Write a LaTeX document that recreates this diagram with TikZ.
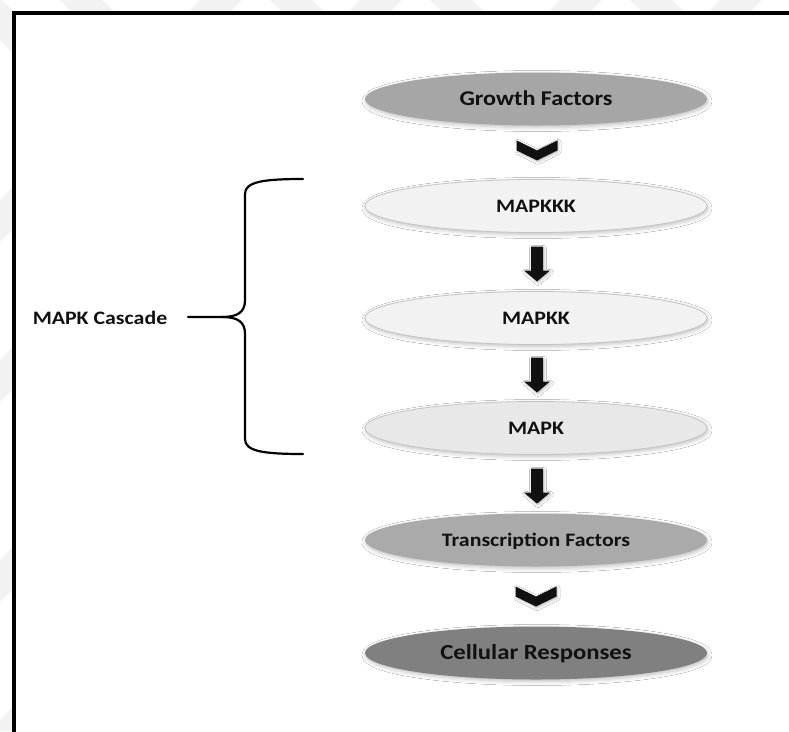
\documentclass[tikz,border=0pt]{standalone}
\usepackage{fontspec}
\usepackage{graphicx}
\setmainfont{Carlito}
\usetikzlibrary{shapes.geometric,shadows.blur,calc}

\definecolor{gfgray}{HTML}{A6A6A6}
\definecolor{kinfill}{HTML}{F2F2F2}
\definecolor{mapkfill}{HTML}{E8E8E8}
\definecolor{tfgray}{HTML}{AAAAAA}
\definecolor{crgray}{HTML}{808080}
\definecolor{rimgray}{HTML}{C4C4C4}
\definecolor{markgray}{HTML}{F2F2F2}
\definecolor{inkblack}{HTML}{111111}

% widened bold label text
\newcommand{\widelabel}[1]{\scalebox{1.15}[1]{#1}}

\begin{document}
\begin{tikzpicture}[x=1pt,y=-1pt,
  stage/.style={ellipse, minimum width=342pt, minimum height=53pt,
    inner sep=0pt, text height=12pt, text depth=0pt, text=inkblack,
    blur shadow={shadow xshift=1pt, shadow yshift=-2pt,
      shadow blur radius=4pt, shadow opacity=25}},
  darkstage/.style={stage, fill=#1},
  lightstage/.style={stage, fill=#1, draw=rimgray, line width=0.8pt},
  bracepath/.style={line width=2.2pt, line cap=round, line join=round},
  pics/downarrow/.style={code={
    \fill[inkblack, blur shadow={shadow xshift=1pt, shadow yshift=-1.5pt,
      shadow blur radius=2.5pt, shadow opacity=25}]
      (-6,0) -- (6,0) -- (6,24) -- (13,24) -- (0,35) -- (-13,24)
      -- (-6,24) -- cycle;}},
  pics/chevron/.style={code={
    \fill[inkblack, blur shadow={shadow xshift=1pt, shadow yshift=-1.5pt,
      shadow blur radius=2.5pt, shadow opacity=25}]
      (-20.5,-10) -- (0,0) -- (20.5,-10) -- (20.5,0) -- (0,10)
      -- (-20.5,0) -- cycle;}}
]
\useasboundingbox (0,0) rectangle (789,731);
\fill[white] (0,0) rectangle (789,731);

% faint diagonal page marks outside the frame
\begin{scope}
  \clip (0,0) rectangle (789,11) (0,0) rectangle (12,731);
  \foreach \c in {200,360,560,720}
    \fill[markgray] (\c,0) -- ++(42,0) -- ++(-800,800) -- ++(-42,0) -- cycle;
  \foreach \c in {-40,60,270,430,630}
    \fill[markgray] (\c,0) -- ++(42,0) -- ++(800,800) -- ++(-42,0) -- cycle;
\end{scope}

% frame
\draw[line width=3.5pt, line cap=rect] (14,740) -- (14,13) -- (800,13);

% pathway stages
\node[darkstage=gfgray, font=\fontsize{21}{24}\selectfont\bfseries]
  (growth) at (536,99) {\widelabel{Growth Factors}};
\node[lightstage=kinfill, font=\fontsize{19}{22}\selectfont\bfseries]
  (mapkkk) at (536,206) {\widelabel{MAPKKK}};
\node[lightstage=kinfill, font=\fontsize{19}{22}\selectfont\bfseries]
  (mapkk) at (536,318) {\widelabel{MAPKK}};
\node[lightstage=mapkfill, font=\fontsize{19}{22}\selectfont\bfseries]
  (mapk) at (536,428) {\widelabel{MAPK}};
\node[darkstage=tfgray, font=\fontsize{19}{22}\selectfont\bfseries]
  (tf) at (536,540) {\widelabel{Transcription Factors}};
\node[darkstage=crgray, font=\fontsize{21.5}{24}\selectfont\bfseries]
  (cr) at (536,653) {\widelabel{Cellular Responses}};

% block arrows between stages
\pic at ($($(growth.south)!0.5!(mapkkk.north)$)+(1,-2)$) {chevron};
\pic at ($($(mapkkk.south)!0.5!(mapkk.north)$)+(1,-15.5)$) {downarrow};
\pic at ($($(mapkk.south)!0.5!(mapk.north)$)+(1,-15.5)$) {downarrow};
\pic at ($($(mapk.south)!0.5!(tf.north)$)+(1,-15.5)$) {downarrow};
\pic at ($($(tf.south)!0.5!(cr.north)$)+(0,0)$) {chevron};

% cascade label and brace
\node[font=\fontsize{19}{22}\selectfont\bfseries, text=inkblack,
  inner sep=0pt, anchor=base] (cascade) at (100,324) {\widelabel{MAPK Cascade}};
\coordinate (bracetip) at (188,317);
\coordinate (bracetop) at (303,179);
\coordinate (bracebot) at (303,454);
\draw[bracepath] (bracetop) .. controls (262,179) and (245,182) .. (245,194)
  -- (245,300) .. controls (245,312) and (238,317) .. (222,317) -- (bracetip);
\draw[bracepath] (bracebot) .. controls (262,454) and (245,451) .. (245,439)
  -- (245,334) .. controls (245,322) and (238,317) .. (222,317);
\end{tikzpicture}
\end{document}
